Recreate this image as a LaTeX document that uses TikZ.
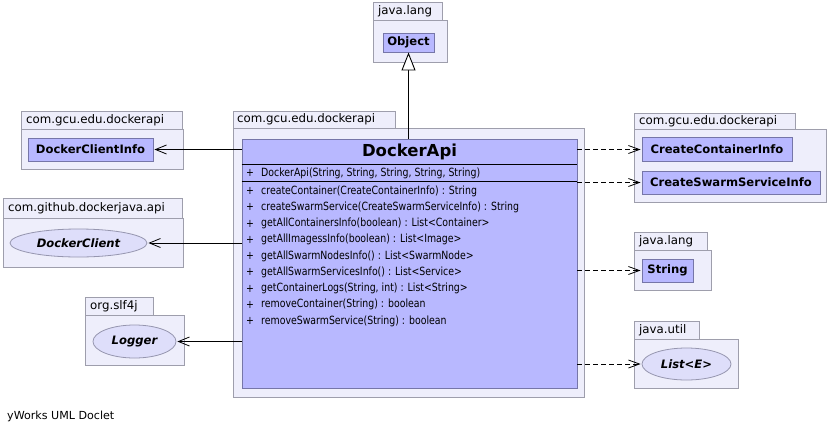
\documentclass[tikz,border=0pt]{standalone}
\usepackage{fontspec}
\setmainfont{DejaVu Sans}
\newfontfamily\methfont[FakeStretch=0.83]{DejaVu Sans}
\usetikzlibrary{arrows.meta,shapes.geometric}
\definecolor{pkgfill}{RGB}{238,238,251}
\definecolor{pkgborder}{RGB}{158,158,172}
\definecolor{clsfill}{RGB}{184,184,255}
\definecolor{clsborder}{RGB}{118,118,168}
\definecolor{iffill}{RGB}{222,222,250}
\definecolor{ifborder}{RGB}{150,150,175}
\begin{document}
\begin{tikzpicture}[x=1pt,y=-1pt,
  pkg/.style={draw=pkgborder, fill=pkgfill, anchor=north west, inner sep=0, line width=0.9pt},
  pkglabel/.style={anchor=west, inner sep=0, font=\fontsize{11.8}{12}\selectfont},
  cls/.style={draw=clsborder, fill=clsfill, inner sep=0, line width=0.9pt, font=\bfseries\fontsize{11.6}{12}\selectfont},
  iface/.style={ellipse, draw=ifborder, fill=iffill, inner sep=0, line width=0.8pt, font=\bfseries\itshape\fontsize{11.6}{12}\selectfont},
  meth/.style={anchor=west, inner sep=0, font=\methfont\fontsize{11.3}{12}\selectfont},
  assoc/.style={line width=0.9pt, -{Straight Barb[length=11pt,width=9pt,line width=0.8pt]}, shorten >=1pt},
  dep/.style={line width=0.9pt, dash pattern=on 5pt off 3pt, -{Straight Barb[length=11pt,width=8pt,line width=0.8pt]}, shorten >=1pt},
  gen/.style={line width=0.9pt, -{Triangle[length=18pt,width=14pt,fill=white,line width=0.9pt]}}
]
\useasboundingbox (0,0) rectangle (829,434);
\fill[white] (0,0) rectangle (829,434);

% java.lang (top)
\node[pkg, minimum width=69pt, minimum height=18pt] (t1tab) at (373,2) {};
\node[pkg, minimum width=74pt, minimum height=42pt] (t1body) at (373,20) {};
\node[pkglabel] (t1label) at (378,11.5) {java.lang};
\node[cls, minimum width=51pt, minimum height=19pt] (object) at (408.5,42.5) {Object};

% main package
\node[pkg, minimum width=162pt, minimum height=17pt] (mtab) at (233,111) {};
\node[pkg, minimum width=351pt, minimum height=269pt] (mbody) at (233,128) {};
\node[pkglabel] (mlabel) at (237,119.5) {com.gcu.edu.dockerapi};
\node[cls, minimum width=335pt, minimum height=249pt] (dockerapi) at (409.5,263.5) {};
\node[inner sep=0, font=\bfseries\fontsize{16.5}{18}\selectfont] (title) at (409.5,151.5) {DockerApi};
\draw[line width=0.9pt] (dockerapi.west |- 0,164) coordinate (s1a) -- (dockerapi.east |- 0,164) coordinate (s1b);
\draw[line width=0.9pt] (dockerapi.west |- 0,181) coordinate (s2a) -- (dockerapi.east |- 0,181) coordinate (s2b);

\node[meth] (p0) at (246,173) {+};
\node[meth] (m0) at (261,173) {DockerApi(String, String, String, String, String)};
\node[meth] (p1) at (246,191) {+};
\node[meth] (m1) at (261,191) {createContainer(CreateContainerInfo) : String};
\node[meth] (p2) at (246,207.2) {+};
\node[meth] (m2) at (261,207.2) {createSwarmService(CreateSwarmServiceInfo) : String};
\node[meth] (p3) at (246,223.5) {+};
\node[meth] (m3) at (261,223.5) {getAllContainersInfo(boolean) : List<Container>};
\node[meth] (p4) at (246,239.7) {+};
\node[meth] (m4) at (261,239.7) {getAllImagessInfo(boolean) : List<Image>};
\node[meth] (p5) at (246,256) {+};
\node[meth] (m5) at (261,256) {getAllSwarmNodesInfo() : List<SwarmNode>};
\node[meth] (p6) at (246,272.2) {+};
\node[meth] (m6) at (261,272.2) {getAllSwarmServicesInfo() : List<Service>};
\node[meth] (p7) at (246,288.5) {+};
\node[meth] (m7) at (261,288.5) {getContainerLogs(String, int) : List<String>};
\node[meth] (p8) at (246,304.7) {+};
\node[meth] (m8) at (261,304.7) {removeContainer(String) : boolean};
\node[meth] (p9) at (246,321) {+};
\node[meth] (m9) at (261,321) {removeSwarmService(String) : boolean};

% left packages
\node[pkg, minimum width=161pt, minimum height=18pt] (l1tab) at (21,111) {};
\node[pkg, minimum width=162pt, minimum height=40pt] (l1body) at (21,129) {};
\node[pkglabel] (l1label) at (26,120) {com.gcu.edu.dockerapi};
\node[cls, minimum width=125pt, minimum height=23pt] (dci) at (90.5,149.5) {DockerClientInfo};

\node[pkg, minimum width=179pt, minimum height=20pt] (l2tab) at (3,198) {};
\node[pkg, minimum width=180pt, minimum height=49pt] (l2body) at (3,218) {};
\node[pkglabel] (l2label) at (8,208) {com.github.dockerjava.api};
\node[iface, minimum width=137pt, minimum height=28pt] (dclient) at (78.5,243) {DockerClient};

\node[pkg, minimum width=68pt, minimum height=18pt] (l3tab) at (85,297) {};
\node[pkg, minimum width=99pt, minimum height=50pt] (l3body) at (85,315) {};
\node[pkglabel] (l3label) at (90,306) {org.slf4j};
\node[iface, minimum width=83pt, minimum height=33pt] (logger) at (134.5,341.5) {Logger};

% right packages
\node[pkg, minimum width=161pt, minimum height=16pt] (r1tab) at (634,113) {};
\node[pkg, minimum width=192pt, minimum height=73pt] (r1body) at (634,129) {};
\node[pkglabel] (r1label) at (639,121) {com.gcu.edu.dockerapi};
\node[cls, minimum width=150pt, minimum height=24pt] (cci) at (717,149.5) {CreateContainerInfo};
\node[cls, minimum width=178pt, minimum height=23pt] (cssi) at (731,182.5) {CreateSwarmServiceInfo};

\node[pkg, minimum width=73pt, minimum height=18pt] (r2tab) at (634,232) {};
\node[pkg, minimum width=77pt, minimum height=40pt] (r2body) at (634,250) {};
\node[pkglabel] (r2label) at (639,241) {java.lang};
\node[cls, minimum width=51pt, minimum height=23pt] (string) at (667.5,270.5) {String};

\node[pkg, minimum width=65pt, minimum height=18pt] (r3tab) at (634,321) {};
\node[pkg, minimum width=104pt, minimum height=49pt] (r3body) at (634,339) {};
\node[pkglabel] (r3label) at (639,330) {java.util};
\node[iface, minimum width=89pt, minimum height=32pt] (list) at (686.5,364) {List<E>};

% connectors
\draw[gen] (object.south |- dockerapi.north) -- (object.south);
\draw[assoc] (dockerapi.west |- dci.east) -- (dci.east);
\draw[assoc] (dockerapi.west |- dclient.east) -- (dclient.east);
\draw[assoc] (dockerapi.west |- logger.east) -- (logger.east);
\draw[dep] (dockerapi.east |- cci.west) -- (cci.west);
\draw[dep] (dockerapi.east |- cssi.west) -- (cssi.west);
\draw[dep] (dockerapi.east |- string.west) -- (string.west);
\draw[dep] (dockerapi.east |- list.west) -- (list.west);

\node[anchor=west, inner sep=0, font=\fontsize{11.1}{12}\selectfont] (footer) at (7,416) {yWorks UML Doclet};
\end{tikzpicture}
\end{document}
